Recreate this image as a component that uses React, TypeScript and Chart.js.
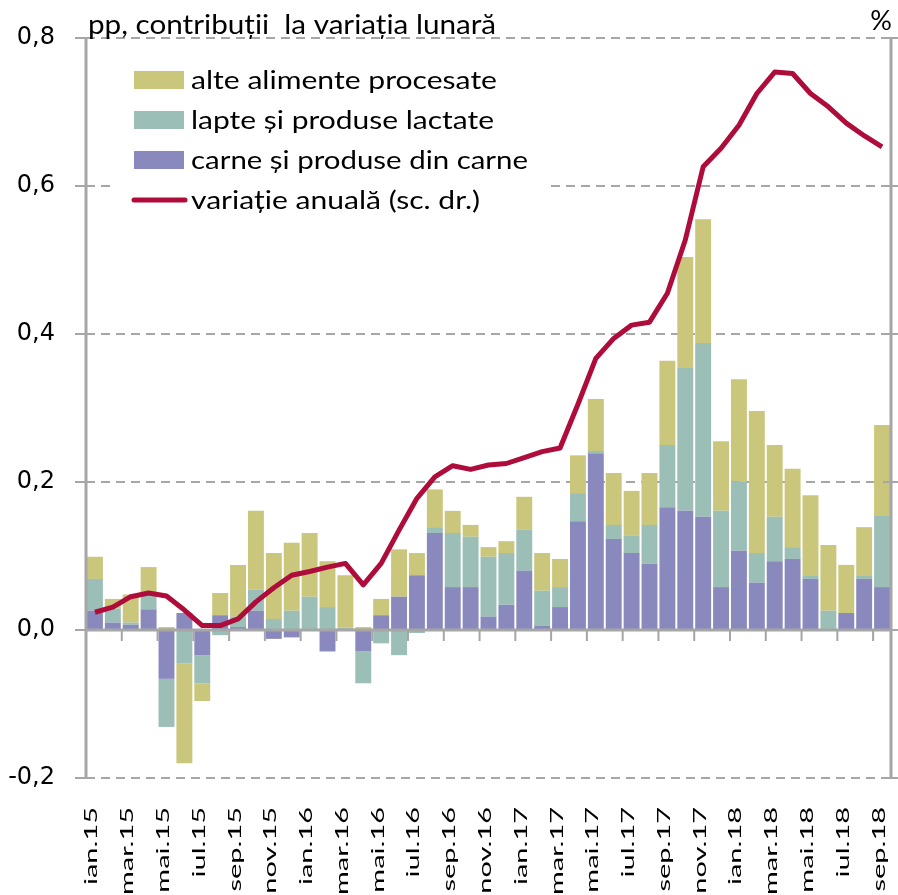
import React, { useEffect, useRef } from 'react';
import { Chart, registerables } from 'chart.js';

Chart.register(...registerables);

const categories = [
  'ian.15', 'feb.15', 'mar.15', 'apr.15', 'mai.15', 'iun.15', 'iul.15', 'aug.15', 'sep.15', 'oct.15', 'nov.15', 'dec.15',
  'ian.16', 'feb.16', 'mar.16', 'apr.16', 'mai.16', 'iun.16', 'iul.16', 'aug.16', 'sep.16', 'oct.16', 'nov.16', 'dec.16',
  'ian.17', 'feb.17', 'mar.17', 'apr.17', 'mai.17', 'iun.17', 'iul.17', 'aug.17', 'sep.17', 'oct.17', 'nov.17', 'dec.17',
  'ian.18', 'feb.18', 'mar.18', 'apr.18', 'mai.18', 'iun.18', 'iul.18', 'aug.18', 'sep.18',
];

const carne = [
  0.026, 0.010, 0.007, 0.028, -0.066, 0.023, -0.034, 0.020, 0.004, 0.026, -0.012, -0.010,
  0.000, -0.029, 0.000, -0.029, 0.020, 0.045, 0.074, 0.131, 0.058, 0.058, 0.018, 0.034,
  0.080, 0.006, 0.031, 0.147, 0.239, 0.123, 0.104, 0.090, 0.166, 0.161, 0.153, 0.058,
  0.107, 0.064, 0.093, 0.096, 0.069, 0.000, 0.023, 0.069, 0.058,
];

const lapte = [
  0.043, 0.019, 0.003, 0.019, -0.065, -0.045, -0.038, -0.007, 0.014, 0.029, 0.015, 0.026,
  0.045, 0.031, 0.003, -0.043, -0.018, -0.034, -0.004, 0.008, 0.073, 0.068, 0.081, 0.070,
  0.056, 0.047, 0.027, 0.038, 0.003, 0.019, 0.024, 0.052, 0.084, 0.194, 0.235, 0.103,
  0.094, 0.040, 0.060, 0.016, 0.005, 0.026, 0.000, 0.005, 0.097,
];

const alte = [
  0.030, 0.013, 0.038, 0.038, 0.004, -0.135, -0.024, 0.030, 0.070, 0.106, 0.089, 0.092,
  0.086, 0.062, 0.071, 0.004, 0.022, 0.064, 0.030, 0.051, 0.030, 0.016, 0.013, 0.016,
  0.044, 0.051, 0.038, 0.051, 0.070, 0.070, 0.060, 0.070, 0.114, 0.149, 0.167, 0.094,
  0.138, 0.192, 0.097, 0.106, 0.108, 0.089, 0.065, 0.065, 0.122,
];

const variatieAnuala = [
  0.024, 0.031, 0.045, 0.050, 0.046, 0.027, 0.006, 0.006, 0.015, 0.038, 0.057, 0.074,
  0.079, 0.085, 0.090, 0.061, 0.090, 0.135, 0.178, 0.207, 0.222, 0.217, 0.223, 0.225,
  0.233, 0.241, 0.246, 0.305, 0.367, 0.394, 0.412, 0.416, 0.455, 0.527, 0.626, 0.651,
  0.682, 0.725, 0.754, 0.752, 0.725, 0.707, 0.685, 0.668, 0.653,
];

const Y_MIN = -0.2;
const Y_MAX = 0.8;
const Y_STEP = 0.2;

const NAME_ALTE = 'alte alimente procesate';
const NAME_LAPTE = 'lapte și produse lactate';
const NAME_CARNE = 'carne și produse din carne';
const NAME_LINE = 'variație anuală (sc. dr.)';
const TITLE_LEFT = 'pp, contribuții  la variația lunară';
const TITLE_RIGHT = '%';

const C_ALTE = '#CAC77C';
const C_LAPTE = '#9BBEB7';
const C_CARNE = '#8A89BE';
const C_LINE = '#AE0D3B';
const C_GRID = '#A6A6A6';

function fitText(ctx: CanvasRenderingContext2D, text: string, x: number, y: number, font: string, width: number) {
  ctx.font = font;
  const w = ctx.measureText(text).width;
  ctx.save();
  ctx.translate(x, y);
  ctx.scale(width / w, 1);
  ctx.textAlign = 'left';
  ctx.textBaseline = 'alphabetic';
  ctx.fillText(text, 0, 0);
  ctx.restore();
}

const decorPlugin = {
  id: 'decor',
  beforeDatasetDraw(chart: any, args: any) {
    if (args.index !== 3) return;
    const { ctx, chartArea: a, scales } = chart;
    const xs = scales.x;
    const ys = scales.y;
    ctx.save();
    ctx.setLineDash([]);
    ctx.strokeStyle = C_GRID;
    ctx.lineWidth = 3;
    ctx.beginPath();
    ctx.moveTo(a.left, a.top);
    ctx.lineTo(a.left, a.bottom);
    ctx.moveTo(a.right, a.top);
    ctx.lineTo(a.right, a.bottom);
    ctx.stroke();
    ctx.lineWidth = 2;
    ctx.beginPath();
    for (const t of ys.ticks) {
      const py = ys.getPixelForValue(t.value);
      ctx.moveTo(a.left - 11, py);
      ctx.lineTo(a.left, py);
      ctx.moveTo(a.right - 8, py);
      ctx.lineTo(a.right + 7, py);
    }
    ctx.stroke();
    const y0 = ys.getPixelForValue(0);
    ctx.lineWidth = 3;
    ctx.beginPath();
    ctx.moveTo(a.left, y0);
    ctx.lineTo(a.right, y0);
    ctx.stroke();
    ctx.lineWidth = 2;
    ctx.beginPath();
    for (let k = 2; k < categories.length; k += 2) {
      const px = (xs.getPixelForValue(k - 1) + xs.getPixelForValue(k)) / 2;
      ctx.moveTo(px, y0);
      ctx.lineTo(px, y0 + 11);
    }
    ctx.stroke();
    ctx.restore();
  },
  afterDraw(chart: any) {
    const { ctx, chartArea: a, scales } = chart;
    const xs = scales.x;
    ctx.save();
    ctx.fillStyle = '#000';
    fitText(ctx, TITLE_LEFT, a.left + 2, a.top - 4, '27px Lato', 408);
    ctx.font = '27px Lato';
    ctx.textAlign = 'right';
    ctx.textBaseline = 'alphabetic';
    ctx.fillText(TITLE_RIGHT, a.right + 1, a.top - 8);
    // x labels, stretched along their length like the reference
    ctx.font = '17px Lato';
    const stretch = 78 / ctx.measureText(categories[0]).width;
    for (let i = 0; i < categories.length; i += 2) {
      const px = xs.getPixelForValue(i);
      ctx.save();
      ctx.translate(px + 2.5, a.bottom + 29);
      ctx.rotate(-Math.PI / 2);
      ctx.scale(stretch, 1);
      ctx.textAlign = 'right';
      ctx.textBaseline = 'alphabetic';
      ctx.fillText(categories[i], 0, 0);
      ctx.restore();
    }
    // legend
    ctx.fillStyle = '#fff';
    ctx.fillRect(a.left + 29, a.top + 17, 430, 162);
    const ds = chart.data.datasets;
    const rows = [ds[2], ds[1], ds[0], ds[3]];
    const widths = [306, 303, 337, 289];
    rows.forEach((d: any, k: number) => {
      const cy = a.top + 42 + 40 * k;
      if (d.type === 'line') {
        ctx.strokeStyle = d.borderColor;
        ctx.lineWidth = 5;
        ctx.lineCap = 'round';
        ctx.beginPath();
        ctx.moveTo(a.left + 48, cy);
        ctx.lineTo(a.left + 99, cy);
        ctx.stroke();
      } else {
        ctx.fillStyle = d.backgroundColor;
        ctx.fillRect(a.left + 48, cy - 9, 50, 18);
      }
      ctx.fillStyle = '#000';
      fitText(ctx, d.label, a.left + 105, cy + 9, '25px Lato', widths[k]);
    });
    ctx.restore();
  },
};

export default function App() {
  const ref = useRef<HTMLCanvasElement | null>(null);

  useEffect(() => {
    if (!ref.current) return;
    const barCommon = {
      type: 'bar' as const,
      yAxisID: 'y',
      order: 2,
      borderWidth: 0,
      barPercentage: 1,
      categoryPercentage: 0.89,
    };
    const chart = new Chart(ref.current, {
      type: 'bar',
      data: {
        labels: categories,
        datasets: [
          { ...barCommon, label: NAME_CARNE, data: carne, backgroundColor: C_CARNE },
          { ...barCommon, label: NAME_LAPTE, data: lapte, backgroundColor: C_LAPTE },
          { ...barCommon, label: NAME_ALTE, data: alte, backgroundColor: C_ALTE },
          {
            type: 'line' as const,
            label: NAME_LINE,
            data: variatieAnuala,
            yAxisID: 'y1',
            order: 1,
            borderColor: C_LINE,
            backgroundColor: C_LINE,
            borderWidth: 5,
            pointRadius: 0,
            tension: 0,
            fill: false,
            borderJoinStyle: 'round' as const,
          },
        ],
      } as any,
      options: {
        responsive: false,
        animation: false,
        layout: { padding: { top: 38, right: 7, bottom: 117, left: 0 } },
        plugins: { legend: { display: false }, tooltip: { enabled: false } },
        scales: {
          x: {
            type: 'category',
            stacked: true,
            display: false,
            offset: true,
          },
          y: {
            stacked: true,
            min: Y_MIN,
            max: Y_MAX,
            position: 'left',
            afterFit: (s: any) => { s.width = 86; },
            ticks: {
              stepSize: Y_STEP,
              padding: 0,
              color: '#000',
              font: { family: 'DejaVu Sans', size: 24 },
              callback: (v: any) => Number(v).toFixed(1).replace('.', ','),
            },
            grid: { color: C_GRID, lineWidth: 2, drawTicks: true, tickLength: 31, tickColor: 'rgba(0,0,0,0)' },
            border: { display: false, dash: [9, 6] },
          },
          y1: {
            display: false,
            min: Y_MIN,
            max: Y_MAX,
            position: 'right',
          },
        },
      } as any,
      plugins: [decorPlugin],
    });
    return () => chart.destroy();
  }, []);

  return (
    <div style={{ position: 'absolute', left: 0, top: 0, width: 898, height: 895, background: '#fff' }}>
      <canvas ref={ref} width={898} height={895} />
    </div>
  );
}
